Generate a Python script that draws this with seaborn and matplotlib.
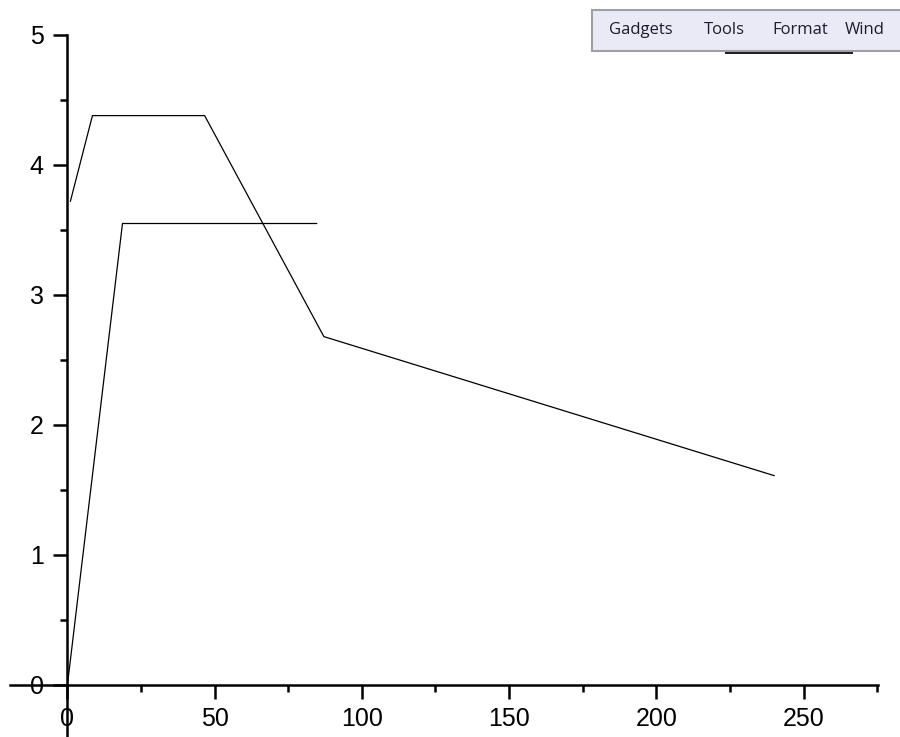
import numpy as np
import pandas as pd
import matplotlib
matplotlib.use("Agg")
import matplotlib.pyplot as plt
from matplotlib.ticker import MultipleLocator
from matplotlib.patches import Rectangle
import seaborn as sns

# two traces
line1_x = [1, 8.5, 46.6, 87.1, 240.1]
line1_y = [3.72, 4.38, 4.38, 2.68, 1.61]
line2_x = [0, 18.7, 84.7]
line2_y = [0, 3.55, 3.55]

x_ticks = [0, 50, 100, 150, 200, 250]
y_ticks = [0, 1, 2, 3, 4, 5]
menu_items = ["Gadgets", "Tools", "Format", "Wind"]

sns.set_style("ticks")
plt.rcParams['font.family'] = ['Liberation Sans', 'DejaVu Sans']

df1 = pd.DataFrame({'x': line1_x, 'y': line1_y})
df2 = pd.DataFrame({'x': line2_x, 'y': line2_y})

fig = plt.figure(figsize=(9, 7.37), dpi=100)
ax = fig.add_axes([10 / 900, 0, 868 / 900, 702 / 737])

sns.lineplot(data=df1, x='x', y='y', sort=False, color='black', lw=0.9, ax=ax)
sns.lineplot(data=df2, x='x', y='y', sort=False, color='black', lw=0.9, ax=ax)

ax.set_xlim(-19.5, 275.3)
ax.set_ylim(-0.4, 5)
ax.spines['left'].set_position(('data', 0))
ax.spines['bottom'].set_position(('data', 0))
ax.spines['top'].set_visible(False)
ax.spines['right'].set_visible(False)
for s in ['left', 'bottom']:
    ax.spines[s].set_linewidth(1.8)
    ax.spines[s].set_color('black')

ax.set_xticks(x_ticks)
ax.set_yticks(y_ticks)
ax.xaxis.set_minor_locator(MultipleLocator(25))
ax.yaxis.set_minor_locator(MultipleLocator(0.5))
ax.tick_params(which='major', length=10, width=1.8, direction='out', labelsize=18, colors='black')
ax.tick_params(which='minor', length=5, width=1.8, direction='out', colors='black')
ax.tick_params(axis='x', which='major', pad=6)
ax.tick_params(axis='y', which='major', pad=7)
ax.set_xlabel('')
ax.set_ylabel('')
ax.patch.set_alpha(0)

# menu bar overlay in the top right (cut by the right edge like the screenshot)
fig.patches.append(Rectangle((592 / 900, 1 - 51 / 737), 320 / 900, 41 / 737,
                             transform=fig.transFigure, facecolor='#eaeaf6',
                             edgecolor='#a0a0a0', lw=1.5, zorder=5))
fig.patches.append(Rectangle((725 / 900, 1 - 54 / 737), 128 / 900, 2 / 737,
                             transform=fig.transFigure, facecolor='#202020',
                             edgecolor='none', zorder=5))
menu_x = [609, 704, 772, 845]
for lbl, px in zip(menu_items, menu_x):
    fig.text(px / 900, 1 - 30 / 737, lbl, fontsize=12, va='center', ha='left',
             color='#1c1c30', family=['Open Sans', 'DejaVu Sans'], zorder=6)

fig.savefig('out.png', dpi=100)
